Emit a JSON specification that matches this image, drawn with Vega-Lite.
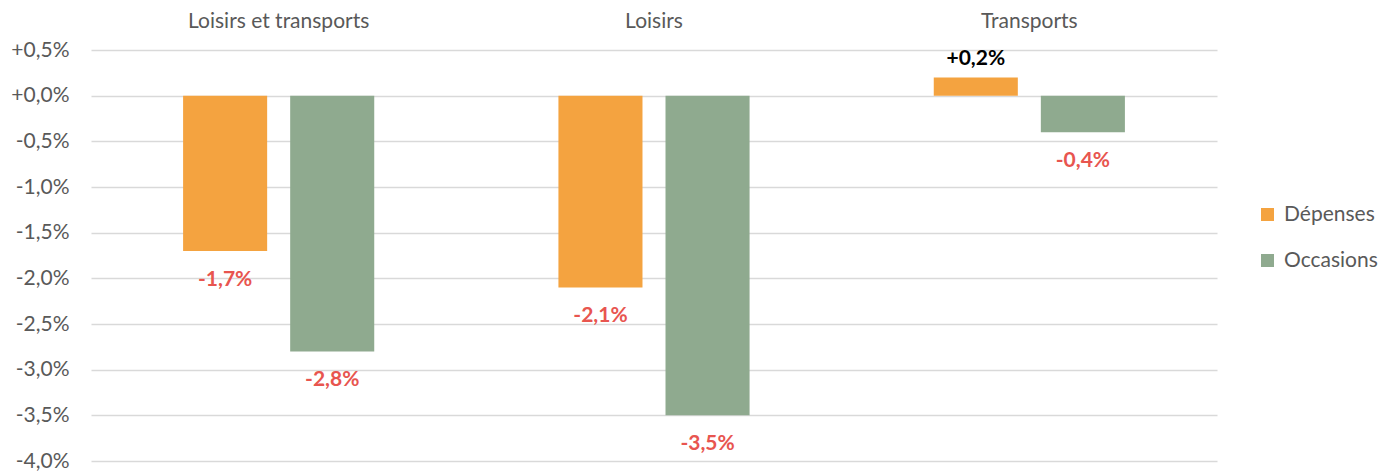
{
  "$schema": "https://vega.github.io/schema/vega-lite/v6.json",
  "width": 1126,
  "height": 411,
  "autosize": "none",
  "padding": {"left": 91, "top": 50, "right": 172, "bottom": 14},
  "config": {
    "locale": {"number": {"decimal": ",", "thousands": " ", "grouping": [3], "currency": ["", " €"], "minus": "-"}},
    "view": {"stroke": null},
    "font": "Lato"
  },
  "data": {
    "values": [
      {"categorie": "Loisirs et transports", "serie": "Dépenses", "valeur": -0.017},
      {"categorie": "Loisirs et transports", "serie": "Occasions", "valeur": -0.028},
      {"categorie": "Loisirs", "serie": "Dépenses", "valeur": -0.021},
      {"categorie": "Loisirs", "serie": "Occasions", "valeur": -0.035},
      {"categorie": "Transports", "serie": "Dépenses", "valeur": 0.002},
      {"categorie": "Transports", "serie": "Occasions", "valeur": -0.004}
    ]
  },
  "encoding": {
    "x": {
      "field": "categorie", "type": "nominal", "sort": null,
      "scale": {"paddingInner": 0, "paddingOuter": 0},
      "axis": {"orient": "top", "title": null, "labelAngle": 0, "domain": false, "ticks": false,
               "labelFontSize": 21, "labelColor": "#595959", "labelPadding": 19, "labelLimit": 0}
    },
    "xOffset": {
      "field": "serie", "type": "nominal", "sort": null,
      "scale": {"paddingInner": 0.215, "paddingOuter": 0.86}
    },
    "y": {
      "field": "valeur", "type": "quantitative",
      "scale": {"domain": [-0.04, 0.005], "nice": false, "zero": false},
      "axis": {
        "title": null, "format": "+.1%",
        "values": [-0.04, -0.035, -0.03, -0.025, -0.02, -0.015, -0.01, -0.005, 0, 0.005],
        "domain": false, "ticks": false,
        "labelFontSize": 21, "labelColor": "#595959", "labelPadding": 22,
        "gridColor": "#D9D9D9", "gridWidth": 1.5
      }
    }
  },
  "layer": [
    {
      "mark": {"type": "bar"},
      "encoding": {
        "color": {
          "field": "serie", "type": "nominal", "sort": null,
          "scale": {"domain": ["Dépenses", "Occasions"], "range": ["#F4A340", "#8FAA8F"]},
          "legend": {
            "title": null, "orient": "none", "legendX": 1166, "legendY": 154,
            "symbolType": "square", "symbolSize": 170, "symbolStrokeWidth": 0,
            "labelFontSize": 21, "labelColor": "#595959", "rowPadding": 24, "labelOffset": 6
          }
        }
      }
    },
    {
      "transform": [{"filter": "datum.valeur < 0"}],
      "mark": {"type": "text", "fontWeight": "bold", "fontSize": 21, "color": "#E8554F", "baseline": "alphabetic", "dy": 35},
      "encoding": {"text": {"field": "valeur", "type": "quantitative", "format": "+.1%"}}
    },
    {
      "transform": [{"filter": "datum.valeur >= 0"}],
      "mark": {"type": "text", "fontWeight": "bold", "fontSize": 21, "color": "#000000", "baseline": "alphabetic", "dy": -12},
      "encoding": {"text": {"field": "valeur", "type": "quantitative", "format": "+.1%"}}
    }
  ]
}
